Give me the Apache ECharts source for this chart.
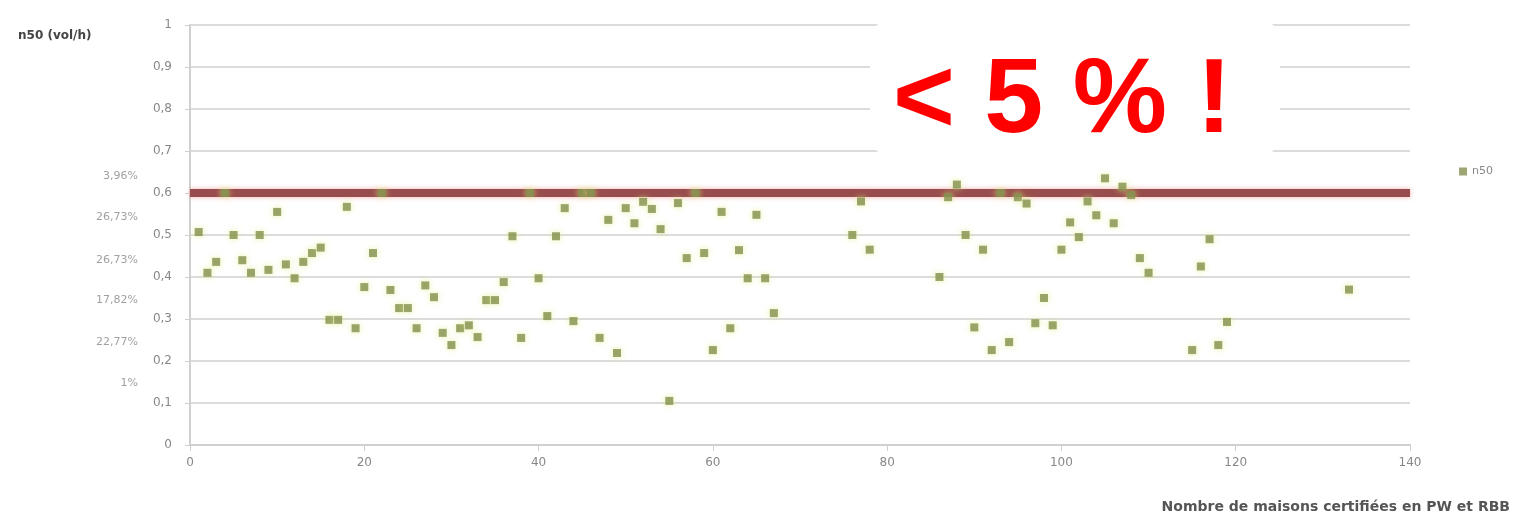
<!DOCTYPE html>
<html>
<head>
<meta charset="utf-8">
<title>n50</title>
<script src="https://cdn.jsdelivr.net/npm/echarts@6/dist/echarts.min.js"></script>
<style>
  html, body { margin: 0; padding: 0; background: #fff; }
  #chart { width: 1528px; height: 525px; }
</style>
</head>
<body>
<div id="chart"></div>
<script>
// numéro de la maison (axe x) et n50 mesuré
const houseNo = [
  1, 2, 3, 4, 5, 6, 7, 8, 9, 10, 11, 12, 13, 14, 15, 16, 17, 18, 19, 20,
  21, 22, 23, 24, 25, 26, 27, 28, 29, 30, 31, 32, 33, 34, 35, 36, 37, 38, 39, 40,
  41, 42, 43, 44, 45, 46, 47, 48, 49, 50, 51, 52, 53, 54, 55, 56, 57, 58, 59, 60,
  61, 62, 63, 64, 65, 66, 67, 76, 77, 78, 86, 87, 88, 89, 90, 91, 92, 93, 94, 95,
  96, 97, 98, 99, 100, 101, 102, 103, 104, 105, 106, 107, 108, 109, 110, 115, 116, 117, 118, 119,
  133
];
const n50 = [
  0.507, 0.41, 0.436, 0.6, 0.5, 0.44, 0.41, 0.5, 0.417, 0.555, 0.43, 0.397, 0.436, 0.457, 0.47, 0.298, 0.298, 0.567, 0.278, 0.376,
  0.457, 0.6, 0.369, 0.326, 0.326, 0.278, 0.38, 0.352, 0.267, 0.238, 0.278, 0.285, 0.257, 0.345, 0.345, 0.388, 0.497, 0.255, 0.6, 0.397,
  0.307, 0.497, 0.564, 0.295, 0.6, 0.6, 0.255, 0.536, 0.219, 0.564, 0.528, 0.579, 0.562, 0.514, 0.105, 0.576, 0.445, 0.6, 0.457, 0.226,
  0.555, 0.278, 0.464, 0.397, 0.548, 0.397, 0.314, 0.5, 0.58, 0.465, 0.4, 0.59, 0.62, 0.5, 0.28, 0.465, 0.226, 0.6, 0.245, 0.59,
  0.575, 0.29, 0.35, 0.285, 0.465, 0.53, 0.495, 0.58, 0.547, 0.635, 0.528, 0.615, 0.595, 0.445, 0.41, 0.226, 0.425, 0.49, 0.238, 0.293,
  0.37
];

// seuil 0,6 vol/h
const limitX = [0, 140];
const limitY = [0.6, 0.6];

// pourcentages par tranche, écrits à gauche de l'axe
const pctY = [0.64, 0.543, 0.44, 0.345, 0.245, 0.148];
const pctLabels = ['3,96%', '26,73%', '26,73%', '17,82%', '22,77%', '1%'];

const chart = echarts.init(document.getElementById('chart'));
const font = 'DejaVu Sans';

chart.setOption({
  animation: false,
  textStyle: { fontFamily: font },
  grid: { left: 190, right: 118, top: 25, bottom: 80 },
  legend: {
    right: 30,
    top: 161,
    data: ['n50'],
    itemWidth: 8,
    itemHeight: 8,
    itemGap: 6,
    textStyle: { color: '#888', fontSize: 11 }
  },
  xAxis: {
    type: 'value',
    min: 0,
    max: 140,
    interval: 20,
    name: 'Nombre de maisons certifiées en PW et RBB',
    nameLocation: 'end',
    nameGap: 0,
    nameTextStyle: {
      color: '#555', fontSize: 14, fontWeight: 'bold',
      align: 'right', verticalAlign: 'top', padding: [55, -100, 0, 0]
    },
    axisLine: { show: true, lineStyle: { color: '#d0d0d0', width: 2 } },
    axisTick: { show: true, length: 6, lineStyle: { color: '#d0d0d0' } },
    axisLabel: { color: '#888', fontSize: 12, margin: 12 },
    splitLine: { show: false }
  },
  yAxis: {
    type: 'value',
    min: 0,
    max: 1,
    interval: 0.1,
    name: 'n50 (vol/h)',
    nameLocation: 'end',
    nameGap: 0,
    nameTextStyle: {
      color: '#444', fontSize: 12, fontWeight: 'bold',
      align: 'left', verticalAlign: 'top', padding: [5, 0, 0, -172]
    },
    axisLine: { show: true, lineStyle: { color: '#d0d0d0', width: 2 } },
    axisTick: { show: true, length: 5, lineStyle: { color: '#d0d0d0' } },
    axisLabel: {
      color: '#888', fontSize: 12, margin: 18,
      formatter: v => String(Math.round(v * 10) / 10).replace('.', ',')
    },
    splitLine: { show: true, lineStyle: { color: '#dcdcdc', width: 2 } }
  },
  series: [
    {
      name: 'seuil',
      type: 'line',
      data: limitX.map((x, i) => [x, limitY[i]]),
      symbol: 'none',
      z: 2,
      lineStyle: {
        color: '#974d4d', width: 8,
        shadowColor: 'rgba(235,150,150,0.8)', shadowBlur: 5
      }
    },
    {
      name: 'pct',
      type: 'scatter',
      data: pctY.map((y, i) => [0, y, pctLabels[i]]),
      symbolSize: 0,
      silent: true,
      label: {
        show: true,
        position: 'left',
        distance: 52,
        color: '#888',
        fontSize: 11,
        formatter: p => p.value[2]
      }
    },
    {
      name: 'n50',
      type: 'scatter',
      data: houseNo.map((x, i) => [x, n50[i]]),
      symbol: 'rect',
      symbolSize: 8,
      z: 3,
      itemStyle: {
        color: '#82904f',
        shadowColor: 'rgba(225,235,120,0.9)',
        shadowBlur: 6
      }
    }
  ],
  graphic: [
    {
      type: 'rect',
      left: 870,
      top: 18,
      shape: { width: 410, height: 140, r: 24 },
      style: { fill: '#fff' },
      z: 100
    },
    {
      type: 'text',
      left: 893,
      top: 50,
      z: 101,
      style: {
        text: '< 5 % !',
        fill: '#ff0000',
        font: 'bold 106px "Liberation Sans"'
      }
    }
  ]
});
</script>
</body>
</html>
